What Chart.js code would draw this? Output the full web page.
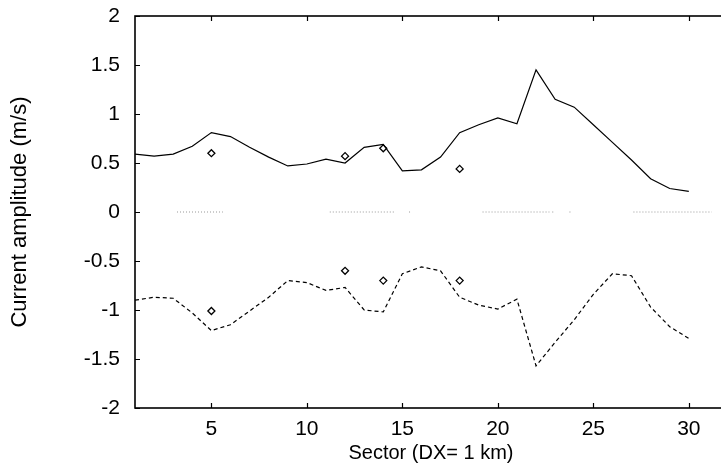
<!DOCTYPE html>
<html>
<head>
<meta charset="utf-8">
<script src="https://cdn.jsdelivr.net/npm/chart.js@4"></script>
<style>
  html, body { margin: 0; padding: 0; background: #fff; overflow: hidden; }
  #wrap { width: 745px; height: 470px; }
</style>
</head>
<body>
<div id="wrap"><canvas id="ampChart" width="745" height="470"></canvas></div>
<script>
// sectors along the section
const sectors = [
  1, 2, 3, 4, 5, 6, 7, 8, 9, 10, 11, 12, 13, 14, 15,
  16, 17, 18, 19, 20, 21, 22, 23, 24, 25, 26, 27, 28, 29, 30,
]

// model amplitude, positive branch (solid)
const ampPos = [
  0.59, 0.57, 0.59, 0.67, 0.81, 0.77, 0.66, 0.56, 0.47, 0.49, 0.54, 0.50, 0.66, 0.69, 0.42,
  0.43, 0.56, 0.81, 0.89, 0.96, 0.90, 1.45, 1.15, 1.07, 0.89, 0.71, 0.53, 0.34, 0.24, 0.21,
]

// model amplitude, negative branch (dashed)
const ampNeg = [
  -0.90, -0.87, -0.88, -1.03, -1.21, -1.15, -1.01, -0.87, -0.70, -0.72, -0.80, -0.77, -1.00, -1.02, -0.63,
  -0.56, -0.60, -0.87, -0.95, -0.99, -0.89, -1.57, -1.33, -1.10, -0.84, -0.63, -0.65, -0.97, -1.17, -1.29,
]

// observations (diamonds)
const obsSector = [5, 12, 14, 18]
const obsPos = [0.60, 0.57, 0.65, 0.44]
const obsNeg = [-1.01, -0.60, -0.70, -0.70]

// stretches of the faint dotted zero line
const zeroSegments = [
  [3.2, 5.6],
  [11.2, 14.6],
  [15.35, 15.45],
  [19.2, 22.7],
  [22.85, 22.95],
  [23.75, 23.85],
  [27.1, 31.2],
]

const xTicks = [5, 10, 15, 20, 25, 30]
const yTicks = [-2, -1.5, -1, -0.5, 0, 0.5, 1, 1.5, 2]

const FONT = "'Liberation Sans', Arial, Helvetica, sans-serif"

const toPoints = (xs, ys) => xs.map((x, i) => ({ x: x, y: ys[i] }))

const zeroPoints = []
zeroSegments.forEach(([a, b]) => {
  zeroPoints.push({ x: a, y: 0 })
  zeroPoints.push({ x: b, y: 0 })
  zeroPoints.push({ x: b, y: null })
})

// frame + inward tick marks, like the original plot
const frameTicks = {
  id: 'frameTicks',
  afterDraw(chart) {
    const { ctx, chartArea: a, scales } = chart
    ctx.save()
    ctx.strokeStyle = '#000'
    ctx.lineWidth = 1.2
    const len = 5
    scales.x.ticks.forEach((t) => {
      const px = Math.round(scales.x.getPixelForValue(t.value)) + 0.5
      ctx.beginPath()
      ctx.moveTo(px, a.bottom)
      ctx.lineTo(px, a.bottom - len)
      ctx.moveTo(px, a.top)
      ctx.lineTo(px, a.top + len)
      ctx.stroke()
    })
    scales.y.ticks.forEach((t) => {
      const py = Math.round(scales.y.getPixelForValue(t.value)) + 0.5
      ctx.beginPath()
      ctx.moveTo(a.left, py)
      ctx.lineTo(a.left + len, py)
      ctx.moveTo(a.right, py)
      ctx.lineTo(a.right - len, py)
      ctx.stroke()
    })
    ctx.lineWidth = 1.6
    ctx.strokeRect(a.left, a.top, a.right - a.left, a.bottom - a.top)
    ctx.restore()
  },
}

new Chart('ampChart', {
  type: 'line',
  data: {
    datasets: [
      {
        label: 'zero',
        data: zeroPoints,
        borderColor: '#999',
        borderWidth: 1,
        borderDash: [1, 2],
        pointRadius: 0,
        spanGaps: false,
      },
      {
        label: 'positive',
        data: toPoints(sectors, ampPos),
        borderColor: '#000',
        borderWidth: 1.2,
        pointRadius: 0,
        tension: 0,
      },
      {
        label: 'negative',
        data: toPoints(sectors, ampNeg),
        borderColor: '#000',
        borderWidth: 1.2,
        borderDash: [4, 3],
        pointRadius: 0,
        tension: 0,
      },
      {
        label: 'obs positive',
        data: toPoints(obsSector, obsPos),
        showLine: false,
        pointStyle: 'rectRot',
        pointRadius: 3.5,
        pointBorderWidth: 1.3,
        pointBorderColor: '#000',
        pointBackgroundColor: '#fff',
      },
      {
        label: 'obs negative',
        data: toPoints(obsSector, obsNeg),
        showLine: false,
        pointStyle: 'rectRot',
        pointRadius: 3.5,
        pointBorderWidth: 1.3,
        pointBorderColor: '#000',
        pointBackgroundColor: '#fff',
      },
    ],
  },
  options: {
    responsive: false,
    animation: false,
    devicePixelRatio: 1,
    layout: { padding: { top: 16, right: 18, bottom: 0, left: 0 } },
    plugins: {
      legend: { display: false },
      tooltip: { enabled: false },
    },
    scales: {
      x: {
        type: 'linear',
        min: 1,
        max: 32,
        afterBuildTicks: (s) => {
          s.ticks = xTicks.map((v) => ({ value: v }))
        },
        afterFit: (s) => {
          s.height = 62
          s.paddingLeft = 0
          s.paddingRight = 0
        },
        grid: { display: false, drawTicks: false },
        border: { display: false },
        ticks: {
          color: '#000',
          padding: 9,
          maxRotation: 0,
          font: { family: FONT, size: 21 },
          callback: (v) => String(v),
        },
        title: {
          display: true,
          text: 'Sector (DX= 1 km)',
          color: '#000',
          font: { family: FONT, size: 20 },
          padding: { top: 0, bottom: 5 },
        },
      },
      y: {
        min: -2,
        max: 2,
        afterBuildTicks: (s) => {
          s.ticks = yTicks.map((v) => ({ value: v }))
        },
        afterFit: (s) => {
          s.width = 135
          s.paddingTop = 0
          s.paddingBottom = 0
        },
        grid: { display: false, drawTicks: false },
        border: { display: false },
        ticks: {
          color: '#000',
          padding: 15,
          font: { family: FONT, size: 21 },
          callback: (v) => String(v),
        },
        title: {
          display: true,
          text: 'Current amplitude (m/s)',
          color: '#000',
          font: { family: FONT, size: 22 },
          padding: { top: 7, bottom: 0 },
        },
      },
    },
  },
  plugins: [frameTicks],
})
</script>
</body>
</html>
